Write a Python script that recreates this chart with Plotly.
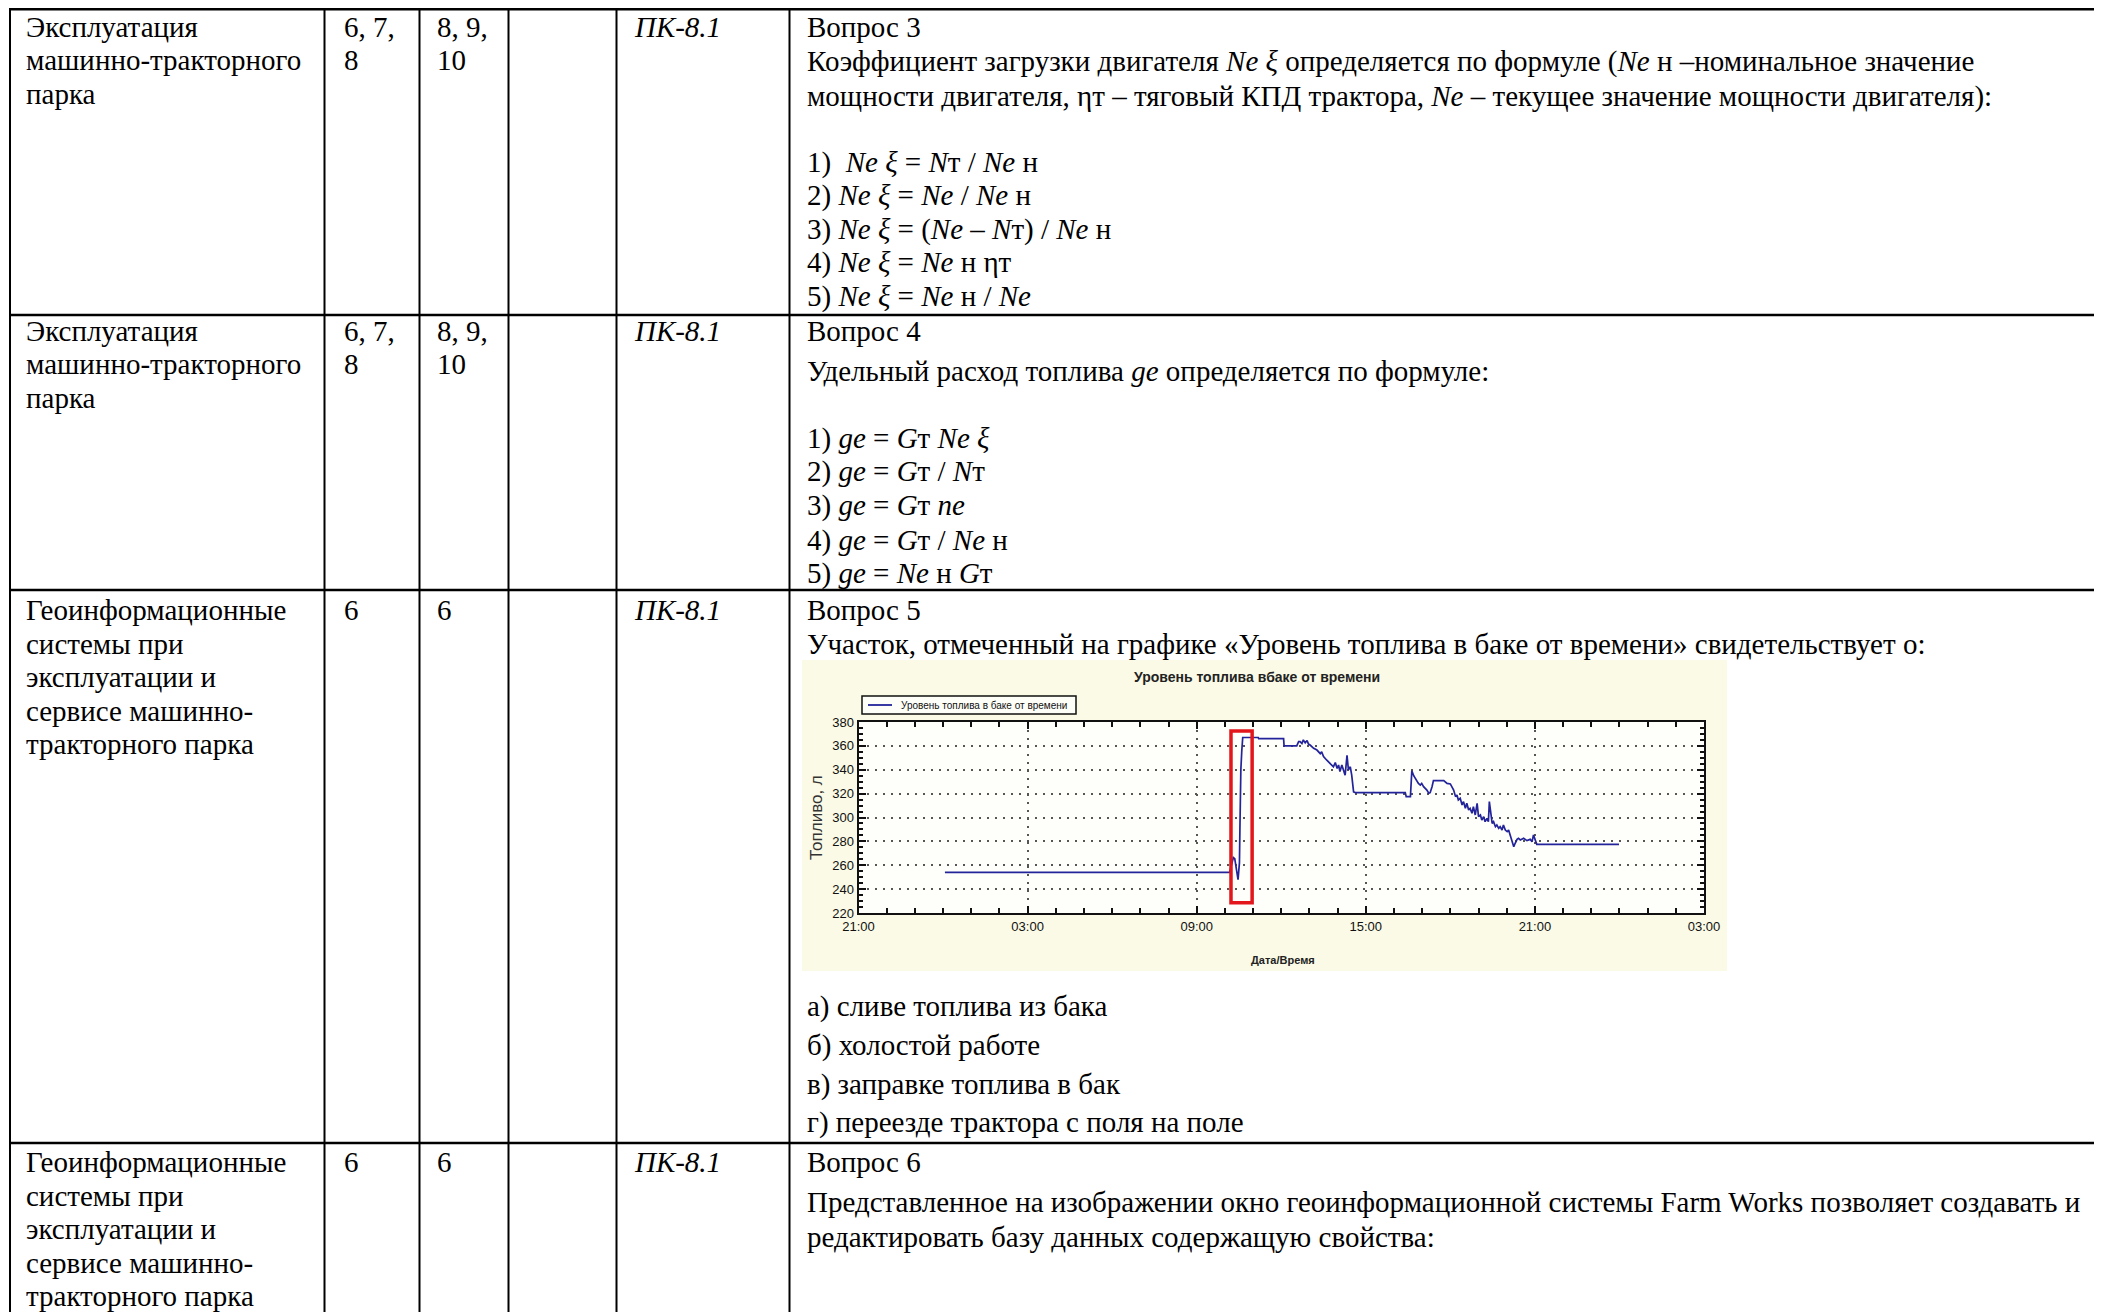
import plotly.graph_objects as go

W, H = 2102, 1312
OFF = 8  # default page margin of the html body; the figure is shifted by it

# ---------------- chart data ----------------
fuel_times = [
    "2014-06-10 00:04", "2014-06-10 10:10", "2014-06-10 10:18", "2014-06-10 10:21",
    "2014-06-10 10:28", "2014-06-10 10:31", "2014-06-10 10:32", "2014-06-10 10:33",
    "2014-06-10 10:34", "2014-06-10 10:36", "2014-06-10 10:37", "2014-06-10 10:38",
    "2014-06-10 11:11", "2014-06-10 11:12", "2014-06-10 12:05", "2014-06-10 12:06",
    "2014-06-10 12:33", "2014-06-10 12:37", "2014-06-10 12:40", "2014-06-10 12:44",
    "2014-06-10 12:47", "2014-06-10 12:51", "2014-06-10 12:55", "2014-06-10 12:58",
    "2014-06-10 13:02", "2014-06-10 13:09", "2014-06-10 13:16", "2014-06-10 13:23",
    "2014-06-10 13:26", "2014-06-10 13:30", "2014-06-10 13:37", "2014-06-10 13:44",
    "2014-06-10 13:51", "2014-06-10 13:55", "2014-06-10 13:59", "2014-06-10 14:02",
    "2014-06-10 14:05", "2014-06-10 14:09", "2014-06-10 14:13", "2014-06-10 14:16",
    "2014-06-10 14:20", "2014-06-10 14:23", "2014-06-10 14:27", "2014-06-10 14:30",
    "2014-06-10 14:34", "2014-06-10 14:38", "2014-06-10 16:24", "2014-06-10 16:26",
    "2014-06-10 16:35", "2014-06-10 16:38", "2014-06-10 16:42", "2014-06-10 16:45",
    "2014-06-10 16:49", "2014-06-10 16:52", "2014-06-10 16:56", "2014-06-10 16:59",
    "2014-06-10 17:03", "2014-06-10 17:10", "2014-06-10 17:14", "2014-06-10 17:17",
    "2014-06-10 17:21", "2014-06-10 17:24", "2014-06-10 17:46", "2014-06-10 17:49",
    "2014-06-10 17:53", "2014-06-10 18:00", "2014-06-10 18:03", "2014-06-10 18:07",
    "2014-06-10 18:11", "2014-06-10 18:14", "2014-06-10 18:17", "2014-06-10 18:21",
    "2014-06-10 18:25", "2014-06-10 18:28", "2014-06-10 18:32", "2014-06-10 18:35",
    "2014-06-10 18:39", "2014-06-10 18:42", "2014-06-10 18:46", "2014-06-10 18:49",
    "2014-06-10 18:53", "2014-06-10 18:57", "2014-06-10 19:00", "2014-06-10 19:04",
    "2014-06-10 19:07", "2014-06-10 19:11", "2014-06-10 19:14", "2014-06-10 19:18",
    "2014-06-10 19:21", "2014-06-10 19:23", "2014-06-10 19:29", "2014-06-10 19:32",
    "2014-06-10 19:36", "2014-06-10 19:39", "2014-06-10 19:43", "2014-06-10 19:46",
    "2014-06-10 19:50", "2014-06-10 19:53", "2014-06-10 19:57", "2014-06-10 20:01",
    "2014-06-10 20:04", "2014-06-10 20:08", "2014-06-10 20:11", "2014-06-10 20:15",
    "2014-06-10 20:18", "2014-06-10 20:22", "2014-06-10 20:25", "2014-06-10 20:29",
    "2014-06-10 20:36", "2014-06-10 20:43", "2014-06-10 20:50", "2014-06-10 20:54",
    "2014-06-10 20:57", "2014-06-10 21:01", "2014-06-10 21:04", "2014-06-10 23:59",
]
fuel_litres = [
    254.0, 254.0, 266.5, 265.5,
    248.0, 262.0, 290.0, 320.0,
    340.0, 356.0, 366.0, 367.0,
    367.0, 366.0, 366.0, 360.0,
    360.0, 363.5, 363.5, 362.0,
    365.0, 362.5, 364.5, 361.5,
    360.5, 358.0, 356.5, 353.5,
    355.0, 351.0, 348.0, 345.5,
    342.5, 346.0, 341.0, 344.0,
    338.5, 344.0, 340.0, 335.5,
    352.0, 340.0, 342.5, 335.5,
    321.5, 320.8, 320.8, 317.5,
    317.5, 339.2, 335.0, 332.8,
    330.0, 328.6, 327.2, 328.6,
    325.8, 323.0, 320.3, 320.8,
    325.8, 330.9, 330.9, 330.0,
    328.6, 328.1, 325.8, 323.0,
    317.5, 318.9, 314.7, 316.1,
    310.5, 313.3, 307.7, 311.9,
    306.3, 307.7, 303.5, 309.1,
    302.1, 311.9, 300.7, 302.1,
    297.9, 300.7, 296.5, 299.3,
    296.5, 313.3, 295.1, 296.5,
    292.3, 293.7, 290.9, 292.3,
    289.5, 293.7, 289.5, 288.2,
    289.5, 284.0, 279.8, 275.6,
    278.4, 281.7, 282.6, 281.2,
    282.6, 280.6, 281.7, 279.8,
    285.4, 281.2, 277.5, 277.5,
]
series_name = "Уровень топлива в баке от времени"
chart_title = "Уровень топлива вбаке от времени"
x_title = "Дата/Время"
y_title = "Топливо, л"
x_range = ["2014-06-09 21:00", "2014-06-11 03:00"]
y_range = [220, 380]
highlight_time = ["2014-06-10 10:13", "2014-06-10 10:58"]
highlight_level = [228.5, 372.5]

# ---------------- table text ----------------
topic_ops = ["Эксплуатация", "машинно-тракторного", "парка"]
topic_gis = ["Геоинформационные", "системы при", "эксплуатации и", "сервисе машинно-", "тракторного парка"]
col2_rows = [["6, 7,", "8"], ["6, 7,", "8"], ["6"], ["6"]]
col3_rows = [["8, 9,", "10"], ["8, 9,", "10"], ["6"], ["6"]]
competence = "<i>ПК-8.1</i>"

q3_lines = [
    "Вопрос 3",
    "Коэффициент загрузки двигателя <i>Ne</i> <i>ξ</i> определяется по формуле (<i>Ne</i> н –номинальное значение",
    "мощности двигателя, ηт – тяговый КПД трактора, <i>Ne</i> – текущее значение мощности двигателя):",
    "1)  <i>Ne ξ</i> = <i>N</i>т / <i>Ne</i> н",
    "2) <i>Ne ξ</i> = <i>Ne</i> / <i>Ne</i> н",
    "3) <i>Ne ξ</i> = (<i>Ne</i> – <i>N</i>т) / <i>Ne</i> н",
    "4) <i>Ne ξ</i> = <i>Ne</i> н ηт",
    "5) <i>Ne ξ</i> = <i>Ne</i> н / <i>Ne</i>",
]
q4_lines = [
    "Вопрос 4",
    "Удельный расход топлива <i>ge</i> определяется по формуле:",
    "1) <i>ge</i> = <i>G</i>т <i>Ne ξ</i>",
    "2) <i>ge</i> = <i>G</i>т / <i>N</i>т",
    "3) <i>ge</i> = <i>G</i>т <i>ne</i>",
    "4) <i>ge</i> = <i>G</i>т / <i>Ne</i> н",
    "5) <i>ge</i> = <i>Ne</i> н <i>G</i>т",
]
q5_lines = [
    "Вопрос 5",
    "Участок, отмеченный на графике «Уровень топлива в баке от времени» свидетельствует о:",
]
q5_answers = [
    "а) сливе топлива из бака",
    "б) холостой работе",
    "в) заправке топлива в бак",
    "г) переезде трактора с поля на поле",
]
q6_lines = [
    "Вопрос 6",
    "Представленное на изображении окно геоинформационной системы Farm Works позволяет создавать и",
    "редактировать базу данных содержащую свойства:",
]

# ---------------- layout helpers (screen pixel -> paper) ----------------
FW, FH = W - OFF, H - OFF

def px(x):
    return (x - OFF) / FW

def py(y):
    return 1 - (y - OFF) / FH

SERIF = "Liberation Serif, Times New Roman, serif"
SANS = "Liberation Sans, Arial, sans-serif"
FS = 29

annotations = []
shapes = []

def text(x, y, s, size=FS, family=SERIF, **kw):
    d = dict(x=px(x), y=py(y), xref="paper", yref="paper", text=s, showarrow=False,
             xanchor="left", yanchor="middle", align="left",
             font=dict(family=family, size=size, color="black"))
    d.update(kw)
    annotations.append(d)

def hline(y, x0, x1, w=2):
    shapes.append(dict(type="line", xref="paper", yref="paper", x0=px(x0), x1=px(x1),
                       y0=py(y), y1=py(y), line=dict(color="black", width=w)))

def vline(x, y0, y1, w=2):
    shapes.append(dict(type="line", xref="paper", yref="paper", x0=px(x), x1=px(x),
                       y0=py(y0), y1=py(y1), line=dict(color="black", width=w)))

# table grid
row_y = [9, 315, 590, 1143]
col_x = [10, 324.5, 419.5, 508.5, 616.5, 789.5]
hline(row_y[0], 9, W, w=3)
for y in row_y[1:]:
    hline(y, 9, W, w=2.5)
for x in col_x:
    vline(x, 8, H, w=2)

# column text positions
X1, X2, X3, X5, X6 = 24, 342, 435, 632, 805
LS = 33.5
row_first = [27, 331, 610, 1162.3]
left_texts = [topic_ops, topic_ops, topic_gis, topic_gis]
for r in range(4):
    y0 = row_first[r]
    for i, s in enumerate(left_texts[r]):
        text(X1, y0 + i * LS, s)
    for i, s in enumerate(col2_rows[r]):
        text(X2, y0 + i * LS, s)
    for i, s in enumerate(col3_rows[r]):
        text(X3, y0 + i * LS, s)
    text(X5, y0, competence)

# question column
q3_y = [27, 62, 96.5, 162.2, 195.7, 229.2, 262.8, 296.3]
for s, y in zip(q3_lines, q3_y):
    text(X6, y, s)
q4_y = [331, 371.3, 438.4, 471.9, 505.4, 540.3, 573.8]
for s, y in zip(q4_lines, q4_y):
    text(X6, y, s)
q5_y = [610, 643.5]
for s, y in zip(q5_lines, q5_y):
    text(X6, y, s)
ans_y = [1006, 1045, 1084, 1122.5]
for s, y in zip(q5_answers, ans_y):
    text(X6, y, s)
q6_y = [1162.3, 1202, 1236.5]
for s, y in zip(q6_lines, q6_y):
    text(X6, y, s)

# ---------------- embedded chart ----------------
IMG = (802, 660, 1727, 971)          # picture box (pixels)
PLOT = (858.5, 722, 1704, 913)       # plot area (pixels)
LEG = (862, 696, 1076, 714)          # legend box (pixels)

shapes.insert(0, dict(type="rect", xref="paper", yref="paper", layer="below",
                      x0=px(IMG[0]), x1=px(IMG[2]), y0=py(IMG[3]), y1=py(IMG[1]),
                      line=dict(width=0), fillcolor="#fafae6"))
shapes.insert(1, dict(type="rect", xref="paper", yref="paper", layer="below",
                      x0=px(PLOT[0]), x1=px(PLOT[2]), y0=py(PLOT[3]), y1=py(PLOT[1]),
                      line=dict(width=0), fillcolor="#fefefa"))
# highlighted section (red frame)
shapes.append(dict(type="rect", xref="x", yref="y",
                   x0=highlight_time[0], x1=highlight_time[1],
                   y0=highlight_level[0], y1=highlight_level[1],
                   line=dict(color="#e3161b", width=3.5), fillcolor="rgba(0,0,0,0)"))
# legend box (drawn by hand to get the compact height of the original)
shapes.append(dict(type="rect", xref="paper", yref="paper",
                   x0=px(LEG[0]), x1=px(LEG[2]), y0=py(LEG[3]), y1=py(LEG[1]),
                   line=dict(color="#111", width=1.5), fillcolor="rgba(255,255,255,0.7)"))
shapes.append(dict(type="line", xref="paper", yref="paper",
                   x0=px(LEG[0] + 6), x1=px(LEG[0] + 30),
                   y0=py((LEG[1] + LEG[3]) / 2), y1=py((LEG[1] + LEG[3]) / 2),
                   line=dict(color="#23239a", width=1.8)))
annotations.append(dict(x=px(LEG[0] + 37), y=py((LEG[1] + LEG[3]) / 2), xref="paper", yref="paper",
                        text=series_name, showarrow=False, xanchor="left", yanchor="middle",
                        font=dict(family=SANS, size=10, color="#111")))

annotations.append(dict(x=px(1257), y=py(677), xref="paper", yref="paper", text="<b>" + chart_title + "</b>",
                        showarrow=False, xanchor="center", yanchor="middle",
                        font=dict(family=SANS, size=14, color="#222")))
annotations.append(dict(x=px(1283), y=py(960), xref="paper", yref="paper", text="<b>" + x_title + "</b>",
                        showarrow=False, xanchor="center", yanchor="middle",
                        font=dict(family=SANS, size=11, color="#222")))
annotations.append(dict(x=px(816), y=py(818), xref="paper", yref="paper", text=y_title,
                        showarrow=False, xanchor="center", yanchor="middle", textangle=-90,
                        font=dict(family=SANS, size=17, color="#333")))

fig = go.Figure()
fig.add_trace(go.Scatter(x=fuel_times, y=fuel_litres, mode="lines", name=series_name,
                         line=dict(color="#23239a", width=1.7), showlegend=False))

axis_common = dict(
    automargin=False,
    showline=True, linecolor="#111", linewidth=2, mirror="allticks",
    ticks="inside", ticklen=7, tickwidth=1.5, tickcolor="#111",
    showgrid=True, gridcolor="#555", gridwidth=1.5, griddash="2px,6px",
    zeroline=False, tickfont=dict(family=SANS, size=13, color="#111"),
)

fig.update_layout(
    width=FW, height=FH, autosize=False,
    margin=dict(l=0, r=0, t=0, b=0, pad=0, autoexpand=False),
    paper_bgcolor="white", plot_bgcolor="rgba(0,0,0,0)",
    showlegend=False,
    xaxis=dict(domain=[px(PLOT[0]), px(PLOT[2])], type="date", range=x_range,
               tick0=x_range[0], dtick=6 * 3600 * 1000, tickformat="%H:%M",
               minor=dict(dtick=3600 * 1000, ticks="inside", ticklen=5, tickcolor="#111", showgrid=False),
               **axis_common),
    yaxis=dict(domain=[py(PLOT[3]), py(PLOT[1])], range=y_range, tick0=220, dtick=20,
               minor=dict(dtick=5, ticks="inside", ticklen=4, tickcolor="#111", showgrid=False),
               **axis_common),
    shapes=shapes,
    annotations=annotations,
)

fig.write_html("out.html")
